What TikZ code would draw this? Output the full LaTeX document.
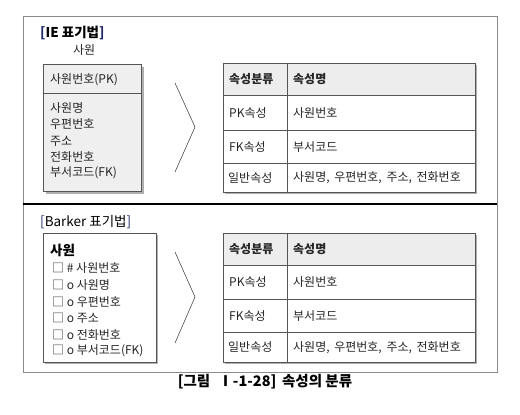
\documentclass[tikz,border=0pt]{standalone}
\usepackage{fontspec}
\setmainfont{Noto Sans CJK KR}
\definecolor{frame}{HTML}{8C8C8C}
\definecolor{boxline}{HTML}{555555}
\definecolor{hdr}{HTML}{EDEDED}
\definecolor{ent}{HTML}{EFEFEF}
\definecolor{shad}{HTML}{B0B0B0}
\definecolor{navy}{HTML}{1F2A6B}
\tikzset{
  txt/.style={anchor=west, inner sep=0pt, font=\fontsize{12}{14}\selectfont, text=black!85},
  hdrtxt/.style={txt, font=\fontsize{12}{14}\selectfont\bfseries},
  ttl/.style={anchor=west, inner sep=0pt, font=\fontsize{13.5}{16}\selectfont\bfseries},
  cellbox/.style={draw=boxline, line width=0.8pt, anchor=north west, inner sep=0pt},
  chev/.style={draw=black!70, line width=0.6pt},
}
\begin{document}
\begin{tikzpicture}[x=1pt,y=-1pt]
\useasboundingbox (0,0) rectangle (520,415);
% outer frame
\draw[frame, line width=0.8pt] (23,16) rectangle (497,372);
\draw[black, line width=1.2pt] (23,204) -- (497,204);

% ===== IE section =====
\node[ttl] (ietitle) at (40,33) {{\color{navy}[}IE 표기법{\color{navy}]}};
\node[txt] (ieent) at (73,50) {사원};
\fill[shad] (46,67) rectangle (144,194);
\node[cellbox, fill=ent, minimum width=98pt, minimum height=29pt] (iepk) at (43,64) {};
\node[cellbox, fill=ent, minimum width=98pt, minimum height=98pt] (iebody) at (43,93) {};
\node[txt] (iepkt) at (50,80) {사원번호(PK)};
\node[txt] (ie1) at (50,108) {사원명};
\node[txt] (ie2) at (50,124.5) {우편번호};
\node[txt] (ie3) at (50,141) {주소};
\node[txt] (ie4) at (50,157) {전화번호};
\node[txt] (ie5) at (50,173) {부서코드(FK)};

% chevron
\coordinate (c1a) at (175,83);
\coordinate (c1b) at (195,127);
\coordinate (c1c) at (175,172);
\draw[chev] (c1a) -- (c1b) -- (c1c);

% table 1
\fill[shad] (225,65) rectangle (477,194);
\node[cellbox, fill=hdr, minimum width=64pt, minimum height=32pt] (t1h1) at (223,63) {};
\node[cellbox, fill=hdr, minimum width=188pt, minimum height=32pt] (t1h2) at (287,63) {};
\node[cellbox, fill=white, minimum width=64pt, minimum height=35pt] (t1a1) at (223,95) {};
\node[cellbox, fill=white, minimum width=188pt, minimum height=35pt] (t1a2) at (287,95) {};
\node[cellbox, fill=white, minimum width=64pt, minimum height=33pt] (t1b1) at (223,130) {};
\node[cellbox, fill=white, minimum width=188pt, minimum height=33pt] (t1b2) at (287,130) {};
\node[cellbox, fill=white, minimum width=64pt, minimum height=29pt] (t1c1) at (223,163) {};
\node[cellbox, fill=white, minimum width=188pt, minimum height=29pt] (t1c2) at (287,163) {};
\node[hdrtxt] at (t1h1.west) [xshift=6pt] {속성분류};
\node[hdrtxt] at (t1h2.west) [xshift=6pt] {속성명};
\node[txt] at (t1a1.west) [xshift=6pt] {PK속성};
\node[txt] at (t1a2.west) [xshift=6pt] {사원번호};
\node[txt] at (t1b1.west) [xshift=6pt] {FK속성};
\node[txt] at (t1b2.west) [xshift=6pt] {부서코드};
\node[txt] at (t1c1.west) [xshift=5pt] {일반속성};
\node[txt] at (t1c2.west) [xshift=6pt] {사원명,\, 우편번호,\, 주소,\, 전화번호};

% ===== Barker section =====
\node[ttl, font=\fontsize{13.5}{16}\selectfont] (btitle) at (40,222) {{\color{navy}[}Barker 표기법{\color{navy}]}};
\fill[shad] (45,235) rectangle (158,364);
\node[cellbox, fill=white, minimum width=113pt, minimum height=129pt] (bbox) at (43,233) {};
\node[ttl] (bent) at (50,250) {사원};
\node[txt] (b1) at (52,268) {□ \# 사원번호};
\node[txt] (b2) at (52,285) {□ o 사원명};
\node[txt] (b3) at (52,302) {□ o 우편번호};
\node[txt] (b4) at (52,318) {□ o 주소};
\node[txt] (b5) at (52,335) {□ o 전화번호};
\node[txt] (b6) at (52,351) {□ o 부서코드(FK)};

% chevron 2
\coordinate (c2a) at (175,252);
\coordinate (c2b) at (195,297);
\coordinate (c2c) at (175,343);
\draw[chev] (c2a) -- (c2b) -- (c2c);

% table 2
\fill[shad] (225,235) rectangle (477,364);
\node[cellbox, fill=hdr, minimum width=64pt, minimum height=32pt] (t2h1) at (223,233) {};
\node[cellbox, fill=hdr, minimum width=188pt, minimum height=32pt] (t2h2) at (287,233) {};
\node[cellbox, fill=white, minimum width=64pt, minimum height=34pt] (t2a1) at (223,265) {};
\node[cellbox, fill=white, minimum width=188pt, minimum height=34pt] (t2a2) at (287,265) {};
\node[cellbox, fill=white, minimum width=64pt, minimum height=33pt] (t2b1) at (223,299) {};
\node[cellbox, fill=white, minimum width=188pt, minimum height=33pt] (t2b2) at (287,299) {};
\node[cellbox, fill=white, minimum width=64pt, minimum height=30pt] (t2c1) at (223,332) {};
\node[cellbox, fill=white, minimum width=188pt, minimum height=30pt] (t2c2) at (287,332) {};
\node[hdrtxt] at (t2h1.west) [xshift=6pt] {속성분류};
\node[hdrtxt] at (t2h2.west) [xshift=6pt] {속성명};
\node[txt] at (t2a1.west) [xshift=6pt] {PK속성};
\node[txt] at (t2a2.west) [xshift=6pt] {사원번호};
\node[txt] at (t2b1.west) [xshift=6pt] {FK속성};
\node[txt] at (t2b2.west) [xshift=6pt] {부서코드};
\node[txt] at (t2c1.west) [xshift=5pt] {일반속성};
\node[txt] at (t2c2.west) [xshift=6pt] {사원명,\, 우편번호,\, 주소,\, 전화번호};

% caption
\node[inner sep=0pt, font=\fontsize{14.5}{17}\selectfont\bfseries] (cap) at (265,382) {[그림\,\, Ⅰ-1-28]\, 속성의 분류};
\end{tikzpicture}
\end{document}
